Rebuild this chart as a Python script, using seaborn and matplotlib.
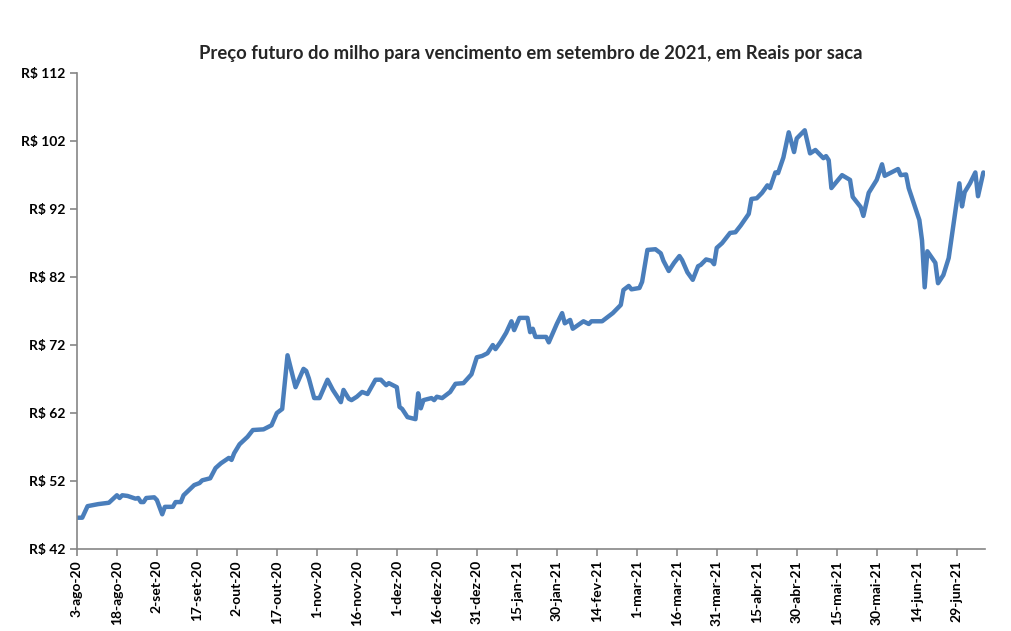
import pandas as pd
import matplotlib
matplotlib.use('Agg')
import matplotlib.pyplot as plt
import seaborn as sns

# Datas (pregões) e preço em R$ por saca
datas = ['2020-08-03', '2020-08-05', '2020-08-07', '2020-08-11', '2020-08-15', '2020-08-18',
         '2020-08-19', '2020-08-20', '2020-08-22', '2020-08-25', '2020-08-26', '2020-08-27',
         '2020-08-28', '2020-08-29', '2020-09-01', '2020-09-02', '2020-09-04', '2020-09-05',
         '2020-09-08', '2020-09-09', '2020-09-11', '2020-09-12', '2020-09-16', '2020-09-18',
         '2020-09-19', '2020-09-22', '2020-09-24', '2020-09-26', '2020-09-29', '2020-09-30',
         '2020-10-01', '2020-10-03', '2020-10-06', '2020-10-08', '2020-10-12', '2020-10-15',
         '2020-10-17', '2020-10-19', '2020-10-21', '2020-10-24', '2020-10-27', '2020-10-28',
         '2020-10-29', '2020-10-31', '2020-11-02', '2020-11-05', '2020-11-07', '2020-11-10',
         '2020-11-11', '2020-11-13', '2020-11-14', '2020-11-16', '2020-11-18', '2020-11-20',
         '2020-11-23', '2020-11-25', '2020-11-27', '2020-11-28', '2020-12-01', '2020-12-02',
         '2020-12-03', '2020-12-05', '2020-12-08', '2020-12-09', '2020-12-10', '2020-12-11',
         '2020-12-14', '2020-12-15', '2020-12-16', '2020-12-18', '2020-12-21', '2020-12-23',
         '2020-12-26', '2020-12-29', '2020-12-31', '2021-01-02', '2021-01-04', '2021-01-06',
         '2021-01-07', '2021-01-09', '2021-01-11', '2021-01-13', '2021-01-14', '2021-01-16',
         '2021-01-19', '2021-01-20', '2021-01-21', '2021-01-22', '2021-01-26', '2021-01-27',
         '2021-01-30', '2021-02-01', '2021-02-02', '2021-02-04', '2021-02-05', '2021-02-09',
         '2021-02-11', '2021-02-12', '2021-02-16', '2021-02-18', '2021-02-20', '2021-02-23',
         '2021-02-24', '2021-02-26', '2021-02-27', '2021-03-02', '2021-03-03', '2021-03-05',
         '2021-03-08', '2021-03-10', '2021-03-11', '2021-03-13', '2021-03-15', '2021-03-17',
         '2021-03-18', '2021-03-20', '2021-03-22', '2021-03-24', '2021-03-25', '2021-03-27',
         '2021-03-29', '2021-03-30', '2021-03-31', '2021-04-02', '2021-04-05', '2021-04-07',
         '2021-04-09', '2021-04-12', '2021-04-13', '2021-04-15', '2021-04-17', '2021-04-19',
         '2021-04-20', '2021-04-22', '2021-04-23', '2021-04-25', '2021-04-27', '2021-04-29',
         '2021-04-30', '2021-05-03', '2021-05-05', '2021-05-07', '2021-05-10', '2021-05-11',
         '2021-05-12', '2021-05-13', '2021-05-17', '2021-05-20', '2021-05-21', '2021-05-24',
         '2021-05-25', '2021-05-27', '2021-05-30', '2021-06-01', '2021-06-02', '2021-06-07',
         '2021-06-08', '2021-06-10', '2021-06-11', '2021-06-15', '2021-06-16', '2021-06-17',
         '2021-06-18', '2021-06-21', '2021-06-22', '2021-06-24', '2021-06-26', '2021-06-30',
         '2021-07-01', '2021-07-02', '2021-07-04', '2021-07-06', '2021-07-07', '2021-07-09']

precos = [46.6, 46.6, 48.3, 48.6, 48.8, 49.9,
          49.5, 49.9, 49.8, 49.4, 49.5, 48.9,
          48.9, 49.5, 49.6, 49.2, 47.1, 48.2,
          48.2, 48.9, 48.9, 49.9, 51.4, 51.7,
          52.1, 52.4, 53.9, 54.6, 55.4, 55.1,
          56.1, 57.4, 58.5, 59.5, 59.6, 60.2,
          62.0, 62.6, 70.5, 65.8, 68.5, 68.2,
          67.1, 64.2, 64.2, 66.9, 65.4, 63.6,
          65.4, 64.1, 63.9, 64.4, 65.1, 64.8,
          66.9, 66.9, 66.1, 66.4, 65.8, 62.9,
          62.6, 61.4, 61.1, 64.9, 62.7, 63.9,
          64.2, 63.9, 64.4, 64.2, 65.1, 66.3,
          66.4, 67.7, 70.2, 70.4, 70.8, 72.0,
          71.4, 72.5, 73.8, 75.5, 74.2, 76.0,
          76.0, 73.9, 74.4, 73.2, 73.2, 72.4,
          75.1, 76.7, 75.2, 75.7, 74.4, 75.5,
          75.1, 75.5, 75.5, 76.1, 76.7, 77.9,
          80.1, 80.7, 80.2, 80.4, 81.3, 86.0,
          86.1, 85.5, 84.4, 82.9, 84.1, 85.1,
          84.5, 82.7, 81.6, 83.6, 83.8, 84.6,
          84.4, 83.9, 86.3, 87.0, 88.5, 88.6,
          89.6, 91.3, 93.5, 93.6, 94.4, 95.5,
          95.1, 97.4, 97.3, 99.6, 103.3, 100.4,
          102.4, 103.6, 100.2, 100.7, 99.5, 99.8,
          99.2, 95.1, 97.0, 96.3, 93.8, 92.3,
          91.0, 94.4, 96.3, 98.6, 96.9, 97.9,
          97.0, 97.1, 95.1, 90.4, 87.4, 80.5,
          85.8, 84.1, 81.1, 82.3, 84.8, 95.8,
          92.4, 94.5, 95.8, 97.4, 93.9, 97.4]

rotulos_x = ['3-ago-20', '18-ago-20', '2-set-20', '17-set-20', '2-out-20', '17-out-20',
             '1-nov-20', '16-nov-20', '1-dez-20', '16-dez-20', '31-dez-20', '15-jan-21',
             '30-jan-21', '14-fev-21', '1-mar-21', '16-mar-21', '31-mar-21', '15-abr-21',
             '30-abr-21', '15-mai-21', '30-mai-21', '14-jun-21', '29-jun-21']
valores_y = [42, 52, 62, 72, 82, 92, 102, 112]

df = pd.DataFrame({'data': pd.to_datetime(datas), 'preco': precos})

sns.set_style('white')
plt.rcParams['font.family'] = ['Lato', 'DejaVu Sans']

fig = plt.figure(figsize=(10.12, 6.31), dpi=100)
ax = fig.add_axes([0.076, 0.130, 0.897, 0.754])

sns.lineplot(data=df, x='data', y='preco', color='#4A7EBB', linewidth=3.2, ax=ax)

# eixo de datas com marcas a cada 15 dias
ticks_x = pd.date_range('2020-08-03', periods=len(rotulos_x), freq='15D')
ax.set_xticks(ticks_x)
ax.set_xticklabels(rotulos_x, rotation=90, fontsize=10, fontweight='bold')
ax.set_xlim(pd.Timestamp('2020-08-03'), pd.Timestamp('2021-07-09 12:00'))

ax.set_yticks(valores_y)
ax.set_yticklabels(['R$ %d' % v for v in valores_y], fontsize=10, fontweight='bold')
ax.set_ylim(42, 112)

ax.set_xlabel('')
ax.set_ylabel('')
ax.set_title('Preço futuro do milho para vencimento em setembro de 2021, em Reais por saca',
             fontsize=13.3, fontweight='bold', pad=10)

for s in ['top', 'right']:
    ax.spines[s].set_visible(False)
for s in ['left', 'bottom']:
    ax.spines[s].set_color('#868686')
    ax.spines[s].set_linewidth(1.2)
ax.tick_params(axis='both', direction='out', length=5, width=1.2, color='#868686',
               labelcolor='black', pad=3, bottom=True, left=True)

fig.savefig('out.png', dpi=100)
